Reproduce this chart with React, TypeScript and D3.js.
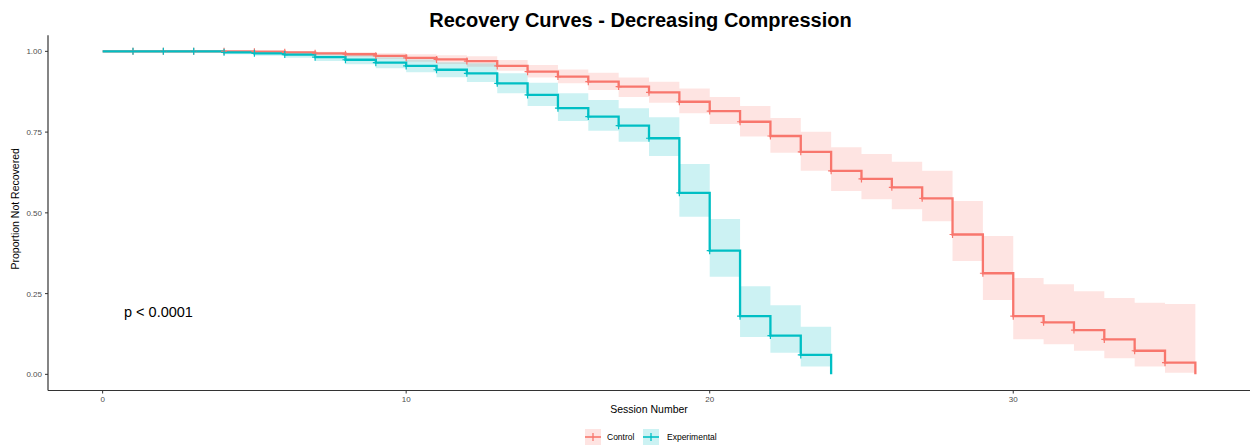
import React from "react";
import * as d3 from "d3";

// Kaplan–Meier style recovery curves, session by session
const controlTime = [0, 1, 2, 3, 4, 5, 6, 7, 8, 9, 10, 11, 12, 13, 14, 15, 16, 17, 18, 19, 20, 21, 22, 23, 24, 25, 26, 27, 28, 29, 30, 31, 32, 33, 34, 35, 36];
const controlSurv = [1, 1, 1, 1, 1, 0.999, 0.997, 0.994, 0.991, 0.986, 0.98, 0.975, 0.97, 0.955, 0.937, 0.922, 0.906, 0.891, 0.873, 0.844, 0.815, 0.782, 0.738, 0.689, 0.63, 0.605, 0.579, 0.545, 0.433, 0.313, 0.18, 0.161, 0.137, 0.108, 0.073, 0.036, 0];
const controlUpper = [1, 1, 1, 1, 1, 1, 1, 0.999, 0.997, 0.994, 0.991, 0.988, 0.985, 0.973, 0.958, 0.944, 0.934, 0.919, 0.906, 0.885, 0.859, 0.831, 0.794, 0.751, 0.703, 0.682, 0.658, 0.63, 0.537, 0.428, 0.298, 0.279, 0.257, 0.236, 0.222, 0.218, 0.218];
const controlLower = [1, 1, 1, 1, 1, 0.996, 0.992, 0.987, 0.983, 0.976, 0.968, 0.961, 0.952, 0.94, 0.919, 0.901, 0.88, 0.859, 0.841, 0.808, 0.775, 0.736, 0.686, 0.63, 0.568, 0.542, 0.511, 0.474, 0.351, 0.23, 0.109, 0.093, 0.073, 0.05, 0.024, 0.005, 0.005];

const experimentalTime = [0, 1, 2, 3, 4, 5, 6, 7, 8, 9, 10, 11, 12, 13, 14, 15, 16, 17, 18, 19, 20, 21, 22, 23, 24];
const experimentalSurv = [1, 1, 1, 1, 0.997, 0.994, 0.99, 0.982, 0.974, 0.965, 0.955, 0.943, 0.932, 0.901, 0.865, 0.824, 0.798, 0.77, 0.731, 0.562, 0.383, 0.18, 0.12, 0.06, 0];
const experimentalUpper = [1, 1, 1, 1, 1, 1, 0.999, 0.994, 0.989, 0.982, 0.975, 0.966, 0.963, 0.932, 0.903, 0.87, 0.849, 0.824, 0.796, 0.651, 0.481, 0.273, 0.214, 0.147, 0.147];
const experimentalLower = [1, 1, 1, 1, 0.991, 0.986, 0.98, 0.97, 0.96, 0.948, 0.935, 0.92, 0.905, 0.87, 0.831, 0.784, 0.754, 0.72, 0.676, 0.488, 0.302, 0.116, 0.067, 0.024, 0.024];

const xTicks = [0, 10, 20, 30];
const yTicks = [0, 0.25, 0.5, 0.75, 1];

const groups = [
  { name: "Control", color: "#F8766D", time: controlTime, surv: controlSurv, upper: controlUpper, lower: controlLower },
  { name: "Experimental", color: "#00BFC4", time: experimentalTime, surv: experimentalSurv, upper: experimentalUpper, lower: experimentalLower },
];

const W = 1250;
const H = 446;
const panel = { left: 48, right: 1250, top: 35.2, bottom: 390.5 };
const FONT = "'Liberation Sans', Arial, Helvetica, sans-serif";

export default function App() {
  const x = d3.scaleLinear().domain([-1.8, 37.8]).range([panel.left, panel.right]);
  const y = d3.scaleLinear().domain([-0.05, 1.05]).range([panel.bottom, panel.top]);

  const line = d3
    .line<[number, number]>()
    .x((d) => x(d[0]))
    .y((d) => y(d[1]))
    .curve(d3.curveStepAfter);

  const band = d3
    .area<[number, number, number]>()
    .x((d) => x(d[0]))
    .y0((d) => y(d[2]))
    .y1((d) => y(d[1]))
    .curve(d3.curveStepAfter);

  const legendItems = [
    { g: groups[0], kx: 585, tx: 607 },
    { g: groups[1], kx: 643, tx: 667 },
  ];

  return (
    <svg width={W} height={H} style={{ position: "absolute", left: 0, top: 0, background: "#fff" }}>
      <rect width={W} height={H} fill="#fff" />
      <text x={640.5} y={26.5} textAnchor="middle" fontFamily={FONT} fontWeight="bold" fontSize={20} fill="#000">
        Recovery Curves - Decreasing Compression
      </text>

      {/* confidence bands */}
      {groups.map((g) => {
        const pts: [number, number, number][] = g.time.map((t, i) => [t, g.upper[i], g.lower[i]]);
        return <path key={g.name + "-band"} d={band(pts) || ""} fill={g.color} fillOpacity={0.2} stroke="none" />;
      })}

      {/* survival steps */}
      {groups.map((g) => {
        const pts: [number, number][] = g.time.map((t, i) => [t, g.surv[i]]);
        return (
          <path key={g.name + "-line"} d={line(pts) || ""} fill="none" stroke={g.color} strokeWidth={2.3} strokeLinejoin="miter" />
        );
      })}

      {/* censor marks */}
      {groups.map((g) =>
        g.time.slice(1, -1).map((t, i) => {
          const cx = x(t);
          const cy = y(g.surv[i + 1]);
          return (
            <path
              key={g.name + "-c" + t}
              d={`M${cx},${cy - 3.5}V${cy + 3.5}M${cx - 3},${cy}H${cx + 3}`}
              stroke={g.color}
              strokeWidth={1.2}
            />
          );
        })
      )}

      {/* axes */}
      <line x1={panel.left} x2={panel.right} y1={panel.bottom} y2={panel.bottom} stroke="#333" strokeWidth={1.2} />
      <line x1={panel.left} x2={panel.left} y1={panel.top} y2={panel.bottom} stroke="#333" strokeWidth={1.2} />
      {xTicks.map((t) => (
        <g key={"xt" + t}>
          <line x1={x(t)} x2={x(t)} y1={panel.bottom} y2={panel.bottom + 3} stroke="#333" strokeWidth={1} />
          <text x={x(t)} y={panel.bottom + 11} textAnchor="middle" fontFamily={FONT} fontSize={8} fill="#4D4D4D">
            {t}
          </text>
        </g>
      ))}
      {yTicks.map((t) => (
        <g key={"yt" + t}>
          <line x1={panel.left - 3} x2={panel.left} y1={y(t)} y2={y(t)} stroke="#333" strokeWidth={1} />
          <text x={panel.left - 6} y={y(t) + 3} textAnchor="end" fontFamily={FONT} fontSize={8} fill="#4D4D4D">
            {d3.format(".2f")(t)}
          </text>
        </g>
      ))}

      <text x={649} y={413} textAnchor="middle" fontFamily={FONT} fontSize={10.5} fill="#000">
        Session Number
      </text>
      <text
        transform={`translate(19,${(panel.top + panel.bottom) / 2 - 4}) rotate(-90)`}
        textAnchor="middle"
        fontFamily={FONT}
        fontSize={10.5}
        fill="#000"
      >
        Proportion Not Recovered
      </text>

      <text x={124} y={317} fontFamily={FONT} fontSize={14.5} fill="#000">
        p &lt; 0.0001
      </text>

      {/* legend */}
      {legendItems.map(({ g, kx, tx }) => (
        <g key={g.name + "-leg"}>
          <rect x={kx} y={429} width={16} height={16} fill={g.color} fillOpacity={0.2} />
          <line x1={kx} x2={kx + 16} y1={437} y2={437} stroke={g.color} strokeWidth={1.6} />
          <line x1={kx + 8} x2={kx + 8} y1={433} y2={441} stroke={g.color} strokeWidth={1.3} />
          <text x={tx} y={440} fontFamily={FONT} fontSize={8.5} fill="#000">
            {g.name}
          </text>
        </g>
      ))}
    </svg>
  );
}
